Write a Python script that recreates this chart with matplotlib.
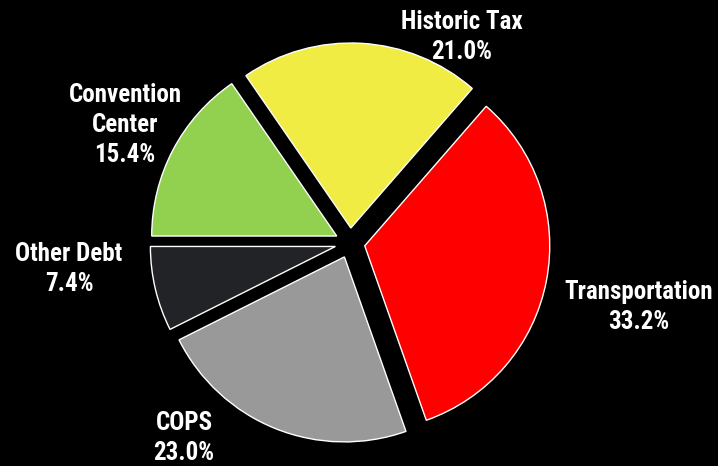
import matplotlib
matplotlib.use('Agg')
import matplotlib.pyplot as plt
from matplotlib import font_manager

# slices, counter-clockwise from the 9 o'clock position
names = ['Other Debt', 'COPS', 'Transportation', 'Historic Tax', 'Convention\nCenter']
shares = [7.4, 23.0, 33.2, 21.0, 15.4]
colors = ['#222326', '#999999', '#ff0000', '#f0ec44', '#92d050']

# where each label sits (pixel coords, origin bottom-left)
label_xy = [(69, 197), (184, 28), (639, 159), (462, 429), (125, 341)]

W, H = 718, 466

# prefer a condensed bold face if one is installed
have = {f.name for f in font_manager.fontManager.ttflist}
narrow = [n for n in ['Liberation Sans Narrow', 'Arial Narrow', 'Roboto Condensed',
                      'Open Sans Condensed', 'Noto Sans'] if n in have]
plt.rcParams['font.family'] = narrow + ['DejaVu Sans']

fig = plt.figure(figsize=(W / 100, H / 100), dpi=100, facecolor='black')
ax = fig.add_axes([0, 0, 1, 1])
ax.set_facecolor('black')

ax.pie(shares, colors=colors, startangle=180, counterclock=True,
       explode=[15] * len(shares), radius=185, center=(350, 223),
       wedgeprops=dict(edgecolor='white', linewidth=1.0))

for name, val, (x, y) in zip(names, shares, label_xy):
    ax.text(x, y, '%s\n%.1f%%' % (name, val), color='white', fontsize=18,
            fontweight='bold', fontstretch='condensed', ha='center', va='center',
            linespacing=1.3)

ax.set_xlim(0, W)
ax.set_ylim(0, H)
ax.set_aspect('equal')
ax.axis('off')

fig.savefig('out.png', dpi=100, facecolor='black')
